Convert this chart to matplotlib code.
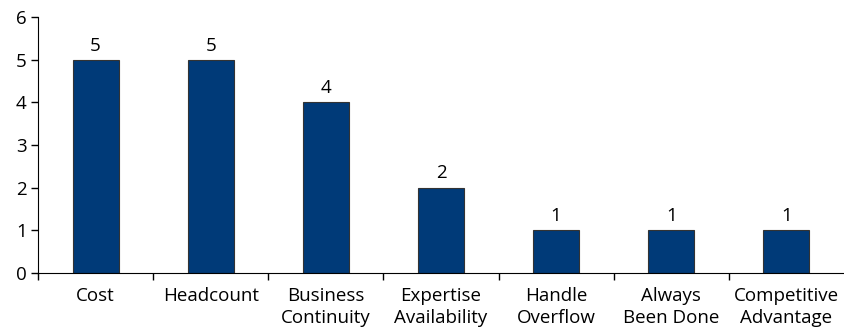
import matplotlib.pyplot as plt
import numpy as np

categories = ["Cost", "Headcount", "Business\nContinuity", "Expertise\nAvailability",
              "Handle\nOverflow", "Always\nBeen Done", "Competitive\nAdvantage"]
values = [5, 5, 4, 2, 1, 1, 1]

plt.rcParams['font.family'] = ['Open Sans', 'DejaVu Sans']
fs = 13.5

fig = plt.figure(figsize=(8.44, 3.28), dpi=100)
ax = fig.add_axes([0.045, 0.168, 0.955, 0.78])

x = np.arange(len(categories))
bars = ax.bar(x, values, width=0.4, color='#003a78', edgecolor='#333333', linewidth=0.8)
for xi, v in zip(x, values):
    ax.text(xi, v + 0.12, str(v), ha='center', va='bottom', fontsize=fs)

ax.set_xlim(-0.5, len(categories) - 0.5)
ax.set_ylim(0, 6)
ax.set_yticks(range(7))
ax.tick_params(axis='y', labelsize=fs, length=5, width=1, pad=3)

# category labels without ticks, boundary ticks between categories
ax.set_xticks(x)
ax.set_xticklabels(categories, fontsize=fs, linespacing=1.3)
ax.tick_params(axis='x', which='major', length=0, pad=10)
ax.set_xticks(np.arange(-0.5, len(categories) - 0.5, 1.0), minor=True)
ax.tick_params(axis='x', which='minor', length=5, width=1)

ax.spines['top'].set_visible(False)
ax.spines['right'].set_visible(False)

plt.savefig('out.png', dpi=100)
